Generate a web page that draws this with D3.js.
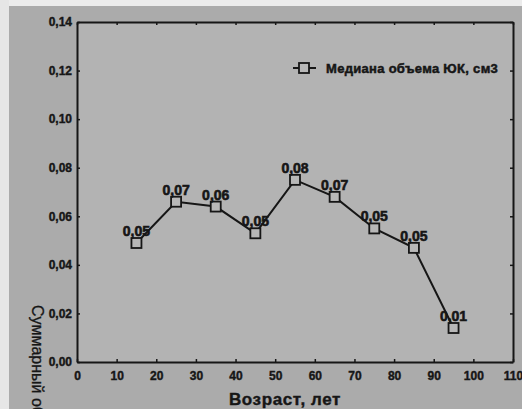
<!DOCTYPE html>
<html><head><meta charset="utf-8">
<script src="https://cdn.jsdelivr.net/npm/d3@7"></script>
<style>html,body{margin:0;padding:0;background:#fff;overflow:hidden}</style>
</head><body>
<svg id="c" width="522" height="409"></svg>
<script>
const ages = [15, 25, 35, 45, 55, 65, 75, 85, 95];
const medians = [0.049, 0.066, 0.064, 0.053, 0.075, 0.068, 0.055, 0.047, 0.014];
const pointLabels = ["0,05", "0,07", "0,06", "0,05", "0,08", "0,07", "0,05", "0,05", "0,01"];
const xTicks = [0, 10, 20, 30, 40, 50, 60, 70, 80, 90, 100, 110];
const yTicks = [0, 0.02, 0.04, 0.06, 0.08, 0.10, 0.12, 0.14];
const seriesName = "Медиана объема ЮК, см3";
const xTitle = "Возраст, лет";
const yTitle = "Суммарный объем ЮК, см3";

const svg = d3.select("#c");
const m = {l: 77, r: 513, t: 22, b: 362};
const x = d3.scaleLinear().domain([0, 110]).range([m.l, m.r]);
const y = d3.scaleLinear().domain([0, 0.14]).range([m.b, m.t]);
const font = "Liberation Sans, Arial, sans-serif";
const ink = "#161616";
const fmt = v => d3.format(".2f")(v).replace(".", ",");

// backgrounds
svg.append("rect").attr("width", 522).attr("height", 409).attr("fill", "#ababab");
svg.append("rect").attr("width", 522).attr("height", 6).attr("fill", "#ececec");
svg.append("rect").attr("width", 9).attr("height", 409).attr("fill", "#e6e6e6");
svg.append("rect").attr("x", m.l).attr("y", m.t).attr("width", m.r - m.l).attr("height", m.b - m.t).attr("fill", "#b3b3b3");

// axes
const gL = svg.append("g").attr("transform", `translate(${m.l},0)`)
  .call(d3.axisLeft(y).tickValues(yTicks).tickFormat(fmt).tickSizeInner(-3).tickSizeOuter(0).tickPadding(5));
const gB = svg.append("g").attr("transform", `translate(0,${m.b})`)
  .call(d3.axisBottom(x).tickValues(xTicks).tickFormat(d3.format("d")).tickSizeInner(-3).tickSizeOuter(0).tickPadding(9));
const gT = svg.append("g").attr("transform", `translate(0,${m.t})`)
  .call(d3.axisTop(x).tickValues(xTicks).tickFormat("").tickSizeInner(-3).tickSizeOuter(0));
const gR = svg.append("g").attr("transform", `translate(${m.r},0)`)
  .call(d3.axisRight(y).tickValues(yTicks).tickFormat("").tickSizeInner(-3).tickSizeOuter(0));
[gL, gB, gT, gR].forEach(g => {
  g.selectAll(".domain").attr("stroke", ink).attr("stroke-width", 2);
  g.selectAll(".tick line").attr("stroke", ink).attr("stroke-width", 1.5);
  g.selectAll("text").attr("fill", ink).attr("font-family", font).attr("font-weight", "bold")
    .attr("font-size", 12).attr("stroke", ink).attr("stroke-width", 0.4);
});

// line
const line = d3.line().x((d, i) => x(ages[i])).y(d => y(d));
svg.append("path").datum(medians).attr("d", line).attr("fill", "none").attr("stroke", ink).attr("stroke-width", 2);
svg.selectAll("rect.pt").data(medians).enter().append("rect").attr("class", "pt")
  .attr("x", (d, i) => x(ages[i]) - 5).attr("y", d => y(d) - 5).attr("width", 10).attr("height", 10)
  .attr("fill", "#b8b8b8").attr("stroke", ink).attr("stroke-width", 1.8);
svg.selectAll("text.lbl").data(medians).enter().append("text").attr("class", "lbl")
  .attr("x", (d, i) => x(ages[i])).attr("y", d => y(d) - 7).attr("text-anchor", "middle")
  .attr("font-family", font).attr("font-weight", "bold").attr("font-size", 14).attr("fill", ink)
  .attr("stroke", ink).attr("stroke-width", 0.6)
  .text((d, i) => pointLabels[i]);

// legend
const lg = svg.append("g").attr("transform", "translate(293,68)");
lg.append("line").attr("x1", 0).attr("x2", 23).attr("y1", 0).attr("y2", 0).attr("stroke", ink).attr("stroke-width", 2);
lg.append("rect").attr("x", 6).attr("y", -5).attr("width", 10).attr("height", 10).attr("fill", "#b8b8b8").attr("stroke", ink).attr("stroke-width", 1.8);
lg.append("text").attr("x", 33).attr("y", 4.5).attr("font-family", font).attr("font-weight", "bold").attr("font-size", 13)
  .attr("letter-spacing", 0.3).attr("stroke", ink).attr("stroke-width", 0.5).attr("fill", ink).text(seriesName);

// titles
svg.append("text").attr("x", 285).attr("y", 405).attr("text-anchor", "middle")
  .attr("font-family", font).attr("font-weight", "bold").attr("font-size", 17).attr("letter-spacing", 0.6)
  .attr("stroke", ink).attr("stroke-width", 0.4).attr("fill", ink).text(xTitle);
svg.append("text").attr("transform", "translate(32,305) rotate(90)")
  .attr("font-family", font).attr("font-size", 16).attr("fill", ink).attr("stroke", ink).attr("stroke-width", 0.3).text(yTitle);
</script>
</body></html>
